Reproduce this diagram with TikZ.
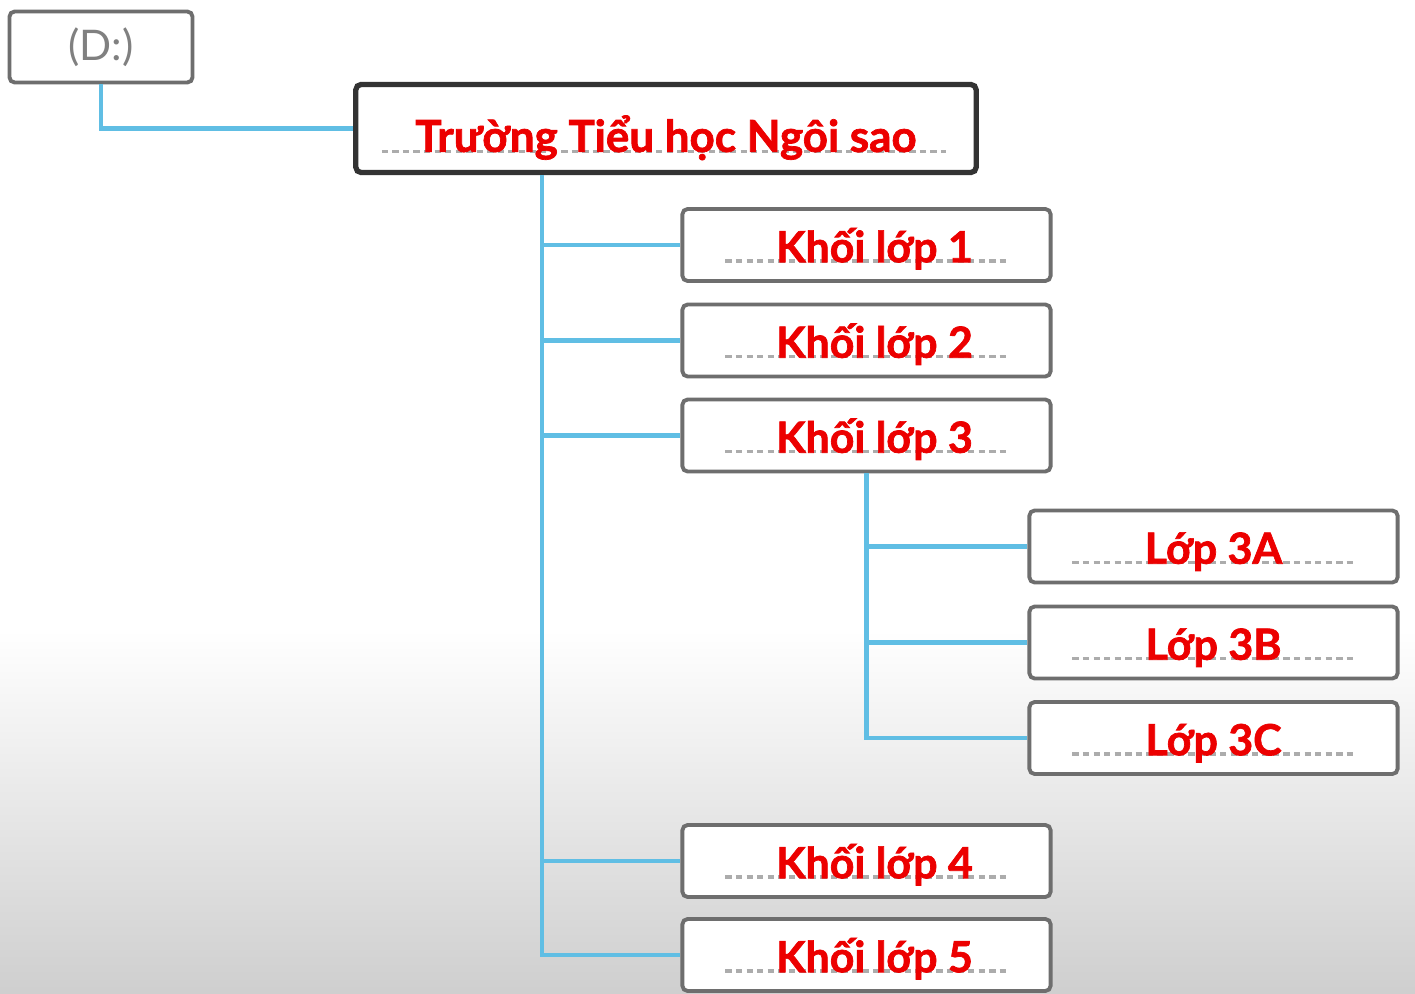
\documentclass[tikz,border=0pt]{standalone}
\usepackage{fontspec}
\setmainfont{Lato}[BoldFeatures={FakeBold=1.6}]
\usetikzlibrary{calc}
\definecolor{wireblue}{RGB}{96,190,228}
\definecolor{boxgray}{RGB}{110,110,110}
\definecolor{labelred}{RGB}{236,0,0}
\tikzset{
    dotline/.style={
           gray!65, line width=0.9pt,
           dash pattern=on 1.8pt off 1.2pt,
           },
}
\tikzset{
    folder/.style={
           rectangle,
           draw=boxgray, line width=1.1pt,
           rounded corners=1.5pt,
           fill=white,
           minimum width=3.68cm, minimum height=0.72cm,
           inner sep=0pt,
           text height=12pt, text depth=2.2pt,
           font=\bfseries\fontsize{12.2}{14}\selectfont,
           text=labelred,
           path picture={\draw[dotline]
               ([xshift=0.43cm,yshift=0.2cm]path picture bounding box.south west) --
               ([xshift=-0.44cm,yshift=0.2cm]path picture bounding box.south east);},
           },
}
\tikzset{
    school/.style={
           folder,
           draw=black!80, line width=1.5pt,
           minimum width=6.2cm, minimum height=0.88cm,
           text height=15pt, text depth=1.7pt,
           font=\bfseries\fontsize{12.5}{15}\selectfont,
           path picture={\draw[dotline]
               ([xshift=0.26cm,yshift=0.21cm]path picture bounding box.south west) --
               ([xshift=-0.30cm,yshift=0.21cm]path picture bounding box.south east);},
           },
}
\tikzset{
    drive/.style={
           rectangle,
           draw=boxgray, line width=1.1pt,
           rounded corners=1.5pt,
           fill=white,
           minimum width=1.83cm, minimum height=0.71cm,
           inner sep=0pt,
           text=gray,
           font=\fontsize{12}{14}\selectfont,
           },
}
\tikzset{
    wire/.style={
           draw=wireblue, line width=1.2pt,
           },
}

\begin{document}
\begin{tikzpicture}[x=0.01cm, y=0.01cm]
\useasboundingbox (0,0) rectangle (1415,-994);
\fill[white] (0,0) rectangle (1415,-994);
\shade[top color=white, bottom color=black!19] (0,-630) rectangle (1415,-994);

% drive and school
\node[drive] (drive) at (101,-47) {(D:)};
\node[school] (school) at (666,-128.5) {Trường Tiểu học Ngôi sao};

% grades
\node[folder] (k1) at (866.5,-245) {\hspace*{0.16cm}Khối lớp 1};
\node[folder] (k2) at (866.5,-340.5) {\hspace*{0.16cm}Khối lớp 2};
\node[folder] (k3) at (866.5,-435.5) {\hspace*{0.16cm}Khối lớp 3};
\node[folder] (k4) at (866.5,-861) {\hspace*{0.16cm}Khối lớp 4};
\node[folder] (k5) at (866.5,-955) {\hspace*{0.16cm}Khối lớp 5};

% classes of grade 3
\node[folder] (c3a) at (1213.5,-546.5) {Lớp 3A};
\node[folder] (c3b) at (1213.5,-642.5) {Lớp 3B};
\node[folder] (c3c) at (1213.5,-738) {Lớp 3C};

% connectors
\coordinate (trunk) at ([xshift=1.89cm]school.south west);
\draw[wire] (drive.south) |- (school.west);
\draw[wire] (trunk) |- (k5.west);
\foreach \g in {k1,k2,k3,k4}
    \draw[wire] (trunk |- \g.west) -- (\g.west);
\draw[wire] (k3.south) |- (c3c.west);
\foreach \c in {c3a,c3b}
    \draw[wire] (k3.south |- \c.west) -- (\c.west);
\end{tikzpicture}
\end{document}
